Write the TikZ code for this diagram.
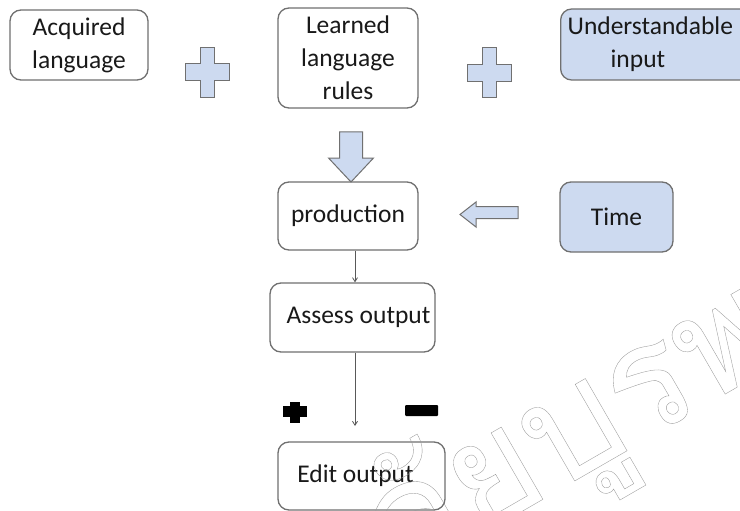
\documentclass[tikz,border=0pt]{standalone}
\usepackage{fontspec}
\setmainfont{Carlito}
\newfontfamily\thaifont[Script=Thai]{Loma}
\usetikzlibrary{arrows.meta}
\definecolor{boxline}{RGB}{112,112,112}
\definecolor{boxblue}{RGB}{205,218,240}
\definecolor{txt}{RGB}{25,25,25}
\begin{document}
\begin{tikzpicture}[x=1pt,y=-1pt,
  box/.style={draw=boxline,line width=1.3pt,rounded corners=11pt,fill=white,inner sep=0pt,align=center,font=\fontsize{25.5}{33}\selectfont,text=txt},
  bluebox/.style={box,fill=boxblue},
  blockarrow/.style={draw=boxline,line width=1pt,fill=boxblue,line join=miter},
  conn/.style={draw=black!65,line width=0.8pt,-{Straight Barb[length=4pt,width=5pt]}},
  sign/.style={fill=black,draw=none},
  wmark/.style={font=\thaifont\fontsize{150}{150}\selectfont,text=black!40,inner sep=0pt}]
\useasboundingbox (0,0) rectangle (740,511);
\fill[white] (0,0) rectangle (740,511);

% boxes
\node[box,minimum width=138pt,minimum height=70pt] (acq) at (79,45) {Acquired\\language};
\node[box,minimum width=140pt,minimum height=100pt] (lrn) at (348,58) {Learned\\language\\rules};
\node[bluebox,anchor=west,align=left,text width=186pt,inner xsep=7pt,minimum height=71pt] (und) at (560,44.5) {Understandable\\\hspace*{43pt}input};
\node[box,minimum width=140pt,minimum height=68pt] (prod) at (348,216) {production};
\node[bluebox,minimum width=113pt,minimum height=70pt] (time) at (616.5,217) {Time};
\node[box,minimum width=165pt,minimum height=69pt] (ass) at (352.5,317.5) {\hspace*{12pt}Assess output};
\node[box,minimum width=167pt,minimum height=68pt] (edit) at (361.5,476) {Edit output\hspace*{12pt}};

% plus shapes
\draw[blockarrow,shift={(207,72.5)}] (-7,-25) -- (7,-25) -- (7,-8.5) -- (22,-8.5) -- (22,8.5) -- (7,8.5) -- (7,25) -- (-7,25) -- (-7,8.5) -- (-22,8.5) -- (-22,-8.5) -- (-7,-8.5) -- cycle;
\draw[blockarrow,shift={(489,73)}] (-7,-25) -- (7,-25) -- (7,-8.5) -- (22,-8.5) -- (22,8.5) -- (7,8.5) -- (7,25) -- (-7,25) -- (-7,8.5) -- (-22,8.5) -- (-22,-8.5) -- (-7,-8.5) -- cycle;

% block arrows
\draw[blockarrow] (339.5,132) -- (362.5,132) -- (362.5,158) -- (373.5,158) -- (351,182) -- (328.5,158) -- (339.5,158) -- cycle;
\draw[blockarrow] (518,206.5) -- (476,206.5) -- (476,202) -- (460,214.5) -- (476,227) -- (476,218.5) -- (518,218.5) -- cycle;

% thin connectors
\coordinate (editin) at (355,426);
\draw[conn] ([xshift=7pt]prod.south) -- ([xshift=2.5pt]ass.north);
\draw[conn] ([xshift=2.5pt]ass.south) -- (editin);

% signs
\fill[sign] (290,402) rectangle (300,423);
\fill[sign] (283,406) rectangle (307,417);
\fill[sign,rounded corners=1pt] (405,405) rectangle (438,416);

% watermark
\node[wmark,rotate=30,anchor=base west] (wm) at (398,583) {\special{pdf:literal direct 1 Tr 0.35 w}ลัยบูรพา\special{pdf:literal direct 0 Tr}};
\end{tikzpicture}
\end{document}
